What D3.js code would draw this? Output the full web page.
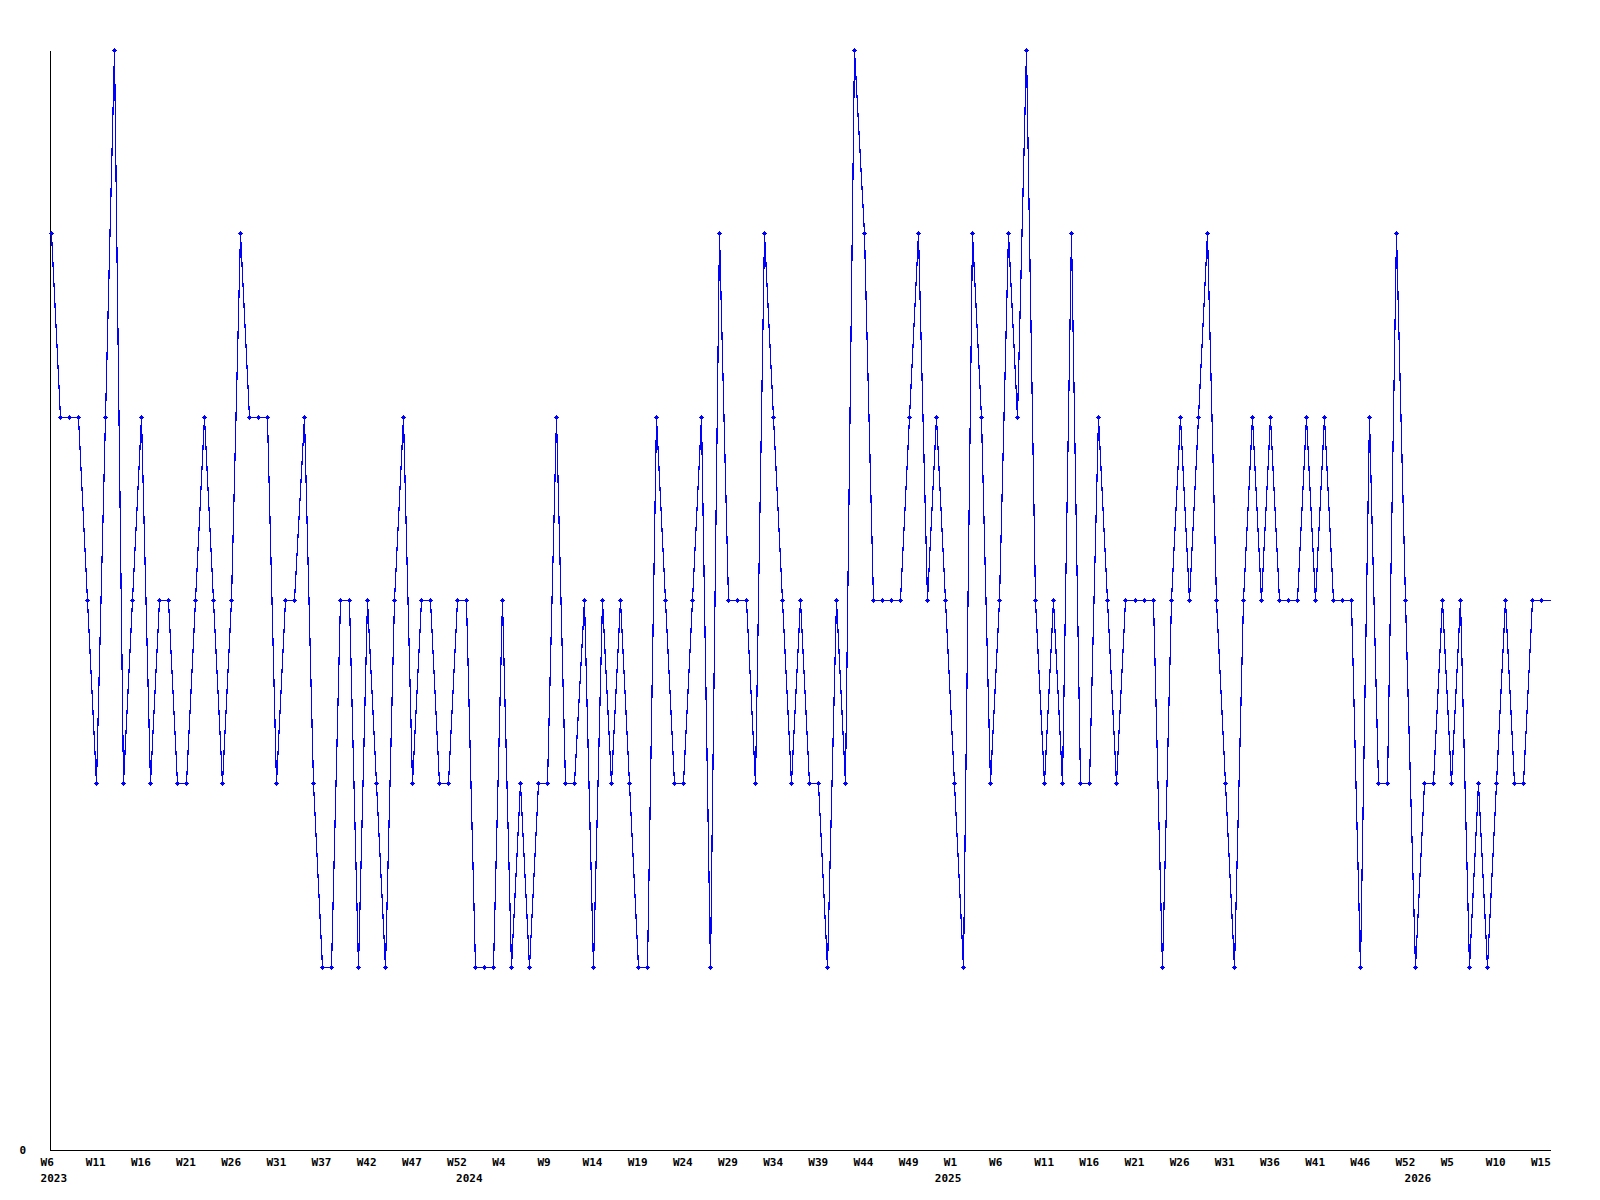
<!DOCTYPE html>
<html>
<head>
<meta charset="utf-8">
<script src="https://cdn.jsdelivr.net/npm/d3@7/dist/d3.min.js"></script>
<style>
  html, body { margin: 0; padding: 0; background: #ffffff; }
  svg { display: block; }
  .axis text { font-family: "DejaVu Sans Mono", "Liberation Mono", monospace; font-weight: bold; font-size: 11px; fill: #000; }
  .axis path { stroke: #000; shape-rendering: crispEdges; }
</style>
</head>
<body>
<svg id="chart" width="1600" height="1200"></svg>
<script>
// Weekly values, 2023 W6 .. 2026 W15 (166 weeks)
const values = [
  5,4,4,4,3,2,4,6,2,3,
  4,2,3,3,2,2,3,4,3,2,
  3,5,4,4,4,2,3,3,4,2,
  1,1,3,3,1,3,2,1,3,4,
  2,3,3,2,2,3,3,1,1,1,
  3,1,2,1,2,2,4,2,2,3,
  1,3,2,3,2,1,1,4,3,2,
  2,3,4,1,5,3,3,3,2,5,
  4,3,2,3,2,2,1,3,2,6,
  5,3,3,3,3,4,5,3,4,3,
  2,1,5,4,2,3,5,4,6,3,
  2,3,2,5,2,2,4,3,2,3,
  3,3,3,1,3,4,3,4,5,3,
  2,1,3,4,3,4,3,3,3,4,
  3,4,3,3,3,1,4,2,2,5,
  3,1,2,2,3,2,3,1,2,1,
  2,3,2,2,3,3
];
// current (incomplete) week: line continues, no marker
const currentWeekValue = 3;

const weekLabels = ["W6","W11","W16","W21","W26","W31","W37","W42","W47","W52",
  "W4","W9","W14","W19","W24","W29","W34","W39","W44","W49",
  "W1","W6","W11","W16","W21","W26","W31","W36","W41","W46",
  "W52","W5","W10","W15"];
const weekLabelIndex = weekLabels.map((d, i) => i * 5);
const yearLabels = ["2023","2024","2025","2026"];
const yearLabelIndex = [0, 46, 99, 151];
const yTickValues = [0];

const svg = d3.select("#chart");
const plotLeft = 50, plotRight = 1550, plotTop = 50, plotBottom = 1150;

const x = d3.scaleLinear().domain([0, values.length]).range([plotLeft + 0.6, plotRight]);
const y = d3.scaleLinear().domain([0, 6]).range([plotBottom, plotTop]);

// axes
const yAxis = d3.axisLeft(y).tickValues(yTickValues).tickSize(0).tickSizeOuter(0).tickPadding(24).tickFormat(d3.format("d"));
const gy = svg.append("g").attr("class", "axis").attr("transform", `translate(${plotLeft},0)`).call(yAxis);
gy.selectAll("text").attr("dy", "0.3em");

const xAxis = d3.axisBottom(x).tickValues(weekLabelIndex).tickSize(0).tickSizeOuter(0)
  .tickFormat((d, i) => weekLabels[i]);
const gx = svg.append("g").attr("class", "axis").attr("transform", `translate(0,${plotBottom})`).call(xAxis);
gx.select(".domain").attr("d", `M${plotLeft},0.5H${plotRight + 1}`);
gx.selectAll("text").attr("text-anchor", "start").attr("x", -10.5).attr("y", 16).attr("dy", 0);

const yearAxis = d3.axisBottom(x).tickValues(yearLabelIndex).tickSize(0).tickSizeOuter(0)
  .tickFormat((d, i) => yearLabels[i]);
const gyr = svg.append("g").attr("class", "axis").attr("transform", `translate(0,${plotBottom})`).call(yearAxis);
gyr.select(".domain").remove();
gyr.selectAll("text").attr("text-anchor", "start").attr("x", -10.5).attr("y", 32).attr("dy", 0);

// line
const lineData = values.map((v, i) => [i, v]).concat([[values.length, currentWeekValue]]);
const line = d3.line().x(d => Math.round(x(d[0])) + 0.5).y(d => Math.round(y(d[1])) + 0.5);
svg.append("path")
  .datum(lineData)
  .attr("d", line)
  .attr("fill", "none")
  .attr("stroke", "#0000ff")
  .attr("stroke-width", 1.2)
  .attr("shape-rendering", "crispEdges");

// markers (plus shape with solid centre)
const marker = "M-2.5,-0.5h5v1h-5z M-0.5,-2.5h1v5h-1z M-1.5,-1.5h3v3h-3z";
svg.append("g").selectAll("path")
  .data(values)
  .join("path")
  .attr("transform", (v, i) => `translate(${Math.round(x(i)) + 0.5},${Math.round(y(v)) + 0.5})`)
  .attr("d", marker)
  .attr("fill", "#0000ff")
  .attr("shape-rendering", "crispEdges");
</script>
</body>
</html>
